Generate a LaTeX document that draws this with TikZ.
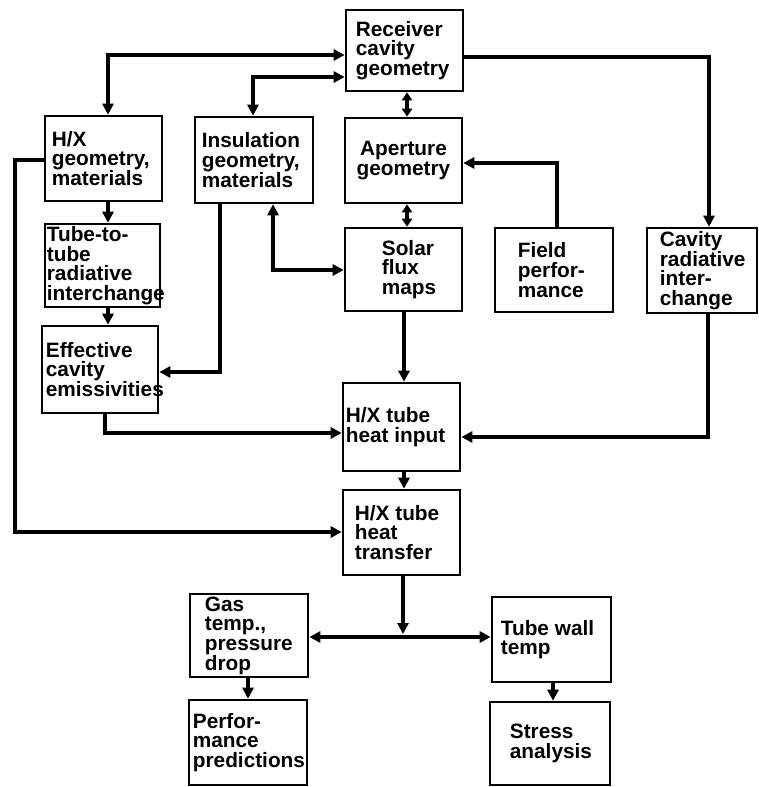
\documentclass[tikz,border=0pt]{standalone}
\usepackage{fontspec}
\setmainfont{Liberation Sans}
\usetikzlibrary{arrows.meta}
\newcommand\mkbox[5]{\node[box, minimum width={#4-#2}, minimum height={#5-#3}] (#1) at ({(#2+#4)/2},{(#3+#5)/2}) {};}
\begin{document}
\begin{tikzpicture}[x=1pt,y=-1pt,
  box/.style={draw, line width=2.6pt, inner sep=0pt},
  txt/.style={font=\fontsize{20.8}{19.6}\selectfont\bfseries, align=left, inner sep=0pt},
  conn/.style={line width=3.6pt},
  arr/.style={conn, -{Triangle[length=11pt,width=11pt]}},
  dbl/.style={conn, {Triangle[length=11pt,width=11pt]}-{Triangle[length=11pt,width=11pt]}},
  sdbl/.style={conn, {Triangle[length=8pt,width=10pt]}-{Triangle[length=8pt,width=10pt]}}]
\path[use as bounding box, fill=white] (0,0) rectangle (759,787);

% boxes
\mkbox{rcv}{346}{10}{463}{91}
\mkbox{hxg}{45}{116}{162}{201}
\mkbox{ins}{195}{117}{313}{203}
\mkbox{ape}{345}{118}{462}{203}
\mkbox{ttt}{45}{224}{160}{307}
\mkbox{eff}{42}{326}{158}{413}
\mkbox{sol}{345}{228}{462}{311}
\mkbox{fld}{495}{228}{613}{312}
\mkbox{cav}{647}{228}{757}{313}
\mkbox{hin}{343}{383}{460}{471}
\mkbox{htr}{343}{490}{460}{575}
\mkbox{gas}{190}{594}{308}{677}
\mkbox{prf}{189}{700}{307}{785}
\mkbox{twt}{492}{597}{611}{682}
\mkbox{str}{490}{702}{610}{785}

% texts
\node[txt, anchor=west] (rcv-t) at ([xshift=11pt]rcv.west) {Receiver\\cavity\\geometry};
\node[txt, anchor=west] (hxg-t) at ([xshift=8pt]hxg.west) {H/X\\geometry,\\materials};
\node[txt, anchor=west] (ins-t) at ([xshift=8pt]ins.west) {Insulation\\geometry,\\materials};
\node[txt, align=center] (ape-t) at (ape.center) {Aperture\\geometry};
\node[txt, anchor=west] (ttt-t) at ([xshift=3pt]ttt.west) {Tube-to-\\tube\\radiative\\interchange};
\node[txt, anchor=west] (eff-t) at ([xshift=5pt]eff.west) {Effective\\cavity\\emissivities};
\node[txt, anchor=west] (sol-t) at ([xshift=38pt]sol.west) {Solar\\flux\\maps};
\node[txt, anchor=west] (fld-t) at ([xshift=24pt]fld.west) {Field\\perfor-\\mance};
\node[txt, anchor=west] (cav-t) at ([xshift=14pt]cav.west) {Cavity\\radiative\\inter-\\change};
\node[txt, anchor=west] (hin-t) at ([xshift=4pt]hin.west) {H/X tube\\heat input};
\node[txt, anchor=west] (htr-t) at ([xshift=13pt]htr.west) {H/X tube\\heat\\transfer};
\node[txt, anchor=west] (gas-t) at ([xshift=16pt]gas.west) {Gas\\temp.,\\pressure\\drop};
\node[txt, anchor=west] (prf-t) at ([xshift=5pt]prf.west) {Perfor-\\mance\\predictions};
\node[txt, anchor=west] (twt-t) at ([xshift=10pt]twt.west) {Tube wall\\temp};
\node[txt, anchor=west] (str-t) at ([xshift=21pt]str.west) {Stress\\analysis};

% bend points
\coordinate (b1) at (108,55);
\coordinate (b2) at (253,77);
\coordinate (b3) at (709,57);
\coordinate (b4) at (557,163);
\coordinate (b5) at (273,270);
\coordinate (b6) at (220,372);
\coordinate (b7) at (15,160);
\coordinate (b8) at (15,532);
\coordinate (b9) at (105,433);
\coordinate (b10) at (708,437);
\coordinate (xa) at (407,0);
\coordinate (xb) at (404,0);
\coordinate (xc) at (108,0);
\coordinate (j) at (403,634);
\coordinate (jh) at (400,637);
\coordinate (xg) at (248,0);
\coordinate (xt) at (553,0);

% connectors
\draw[dbl] (rcv.west |- b1) -- (b1) -- (hxg.north -| b1);
\draw[dbl] (rcv.west |- b2) -- (b2) -- (ins.north -| b2);
\draw[arr] (rcv.east |- b3) -- (b3) -- (cav.north -| b3);
\draw[sdbl] (rcv.south -| xa) -- (ape.north -| xa);
\draw[sdbl] (ape.south -| xa) -- (sol.north -| xa);
\draw[arr] (fld.north -| b4) -- (b4) -- (ape.east |- b4);
\draw[dbl] (ins.south -| b5) -- (b5) -- (sol.west |- b5);
\draw[arr] (ins.south -| b6) -- (b6) -- (eff.east |- b6);
\draw[arr] (hxg.west |- b7) -- (b7) -- (b8) -- (htr.west |- b8);
\draw[arr] (hxg.south -| xc) -- (ttt.north -| xc);
\draw[arr] (ttt.south -| xc) -- (eff.north -| xc);
\draw[arr] (eff.south -| b9) -- (b9) -- (hin.west |- b9);
\draw[arr] (sol.south -| xb) -- (hin.north -| xb);
\draw[arr] (cav.south -| b10) -- (b10) -- (hin.east |- b10);
\draw[arr] (hin.south -| xb) -- (htr.north -| xb);
\draw[arr] (htr.south -| j) -- (j);
\draw[dbl] (gas.east |- jh) -- (twt.west |- jh);
\draw[arr] (gas.south -| xg) -- (prf.north -| xg);
\draw[arr] (twt.south -| xt) -- (str.north -| xt);
\end{tikzpicture}
\end{document}
